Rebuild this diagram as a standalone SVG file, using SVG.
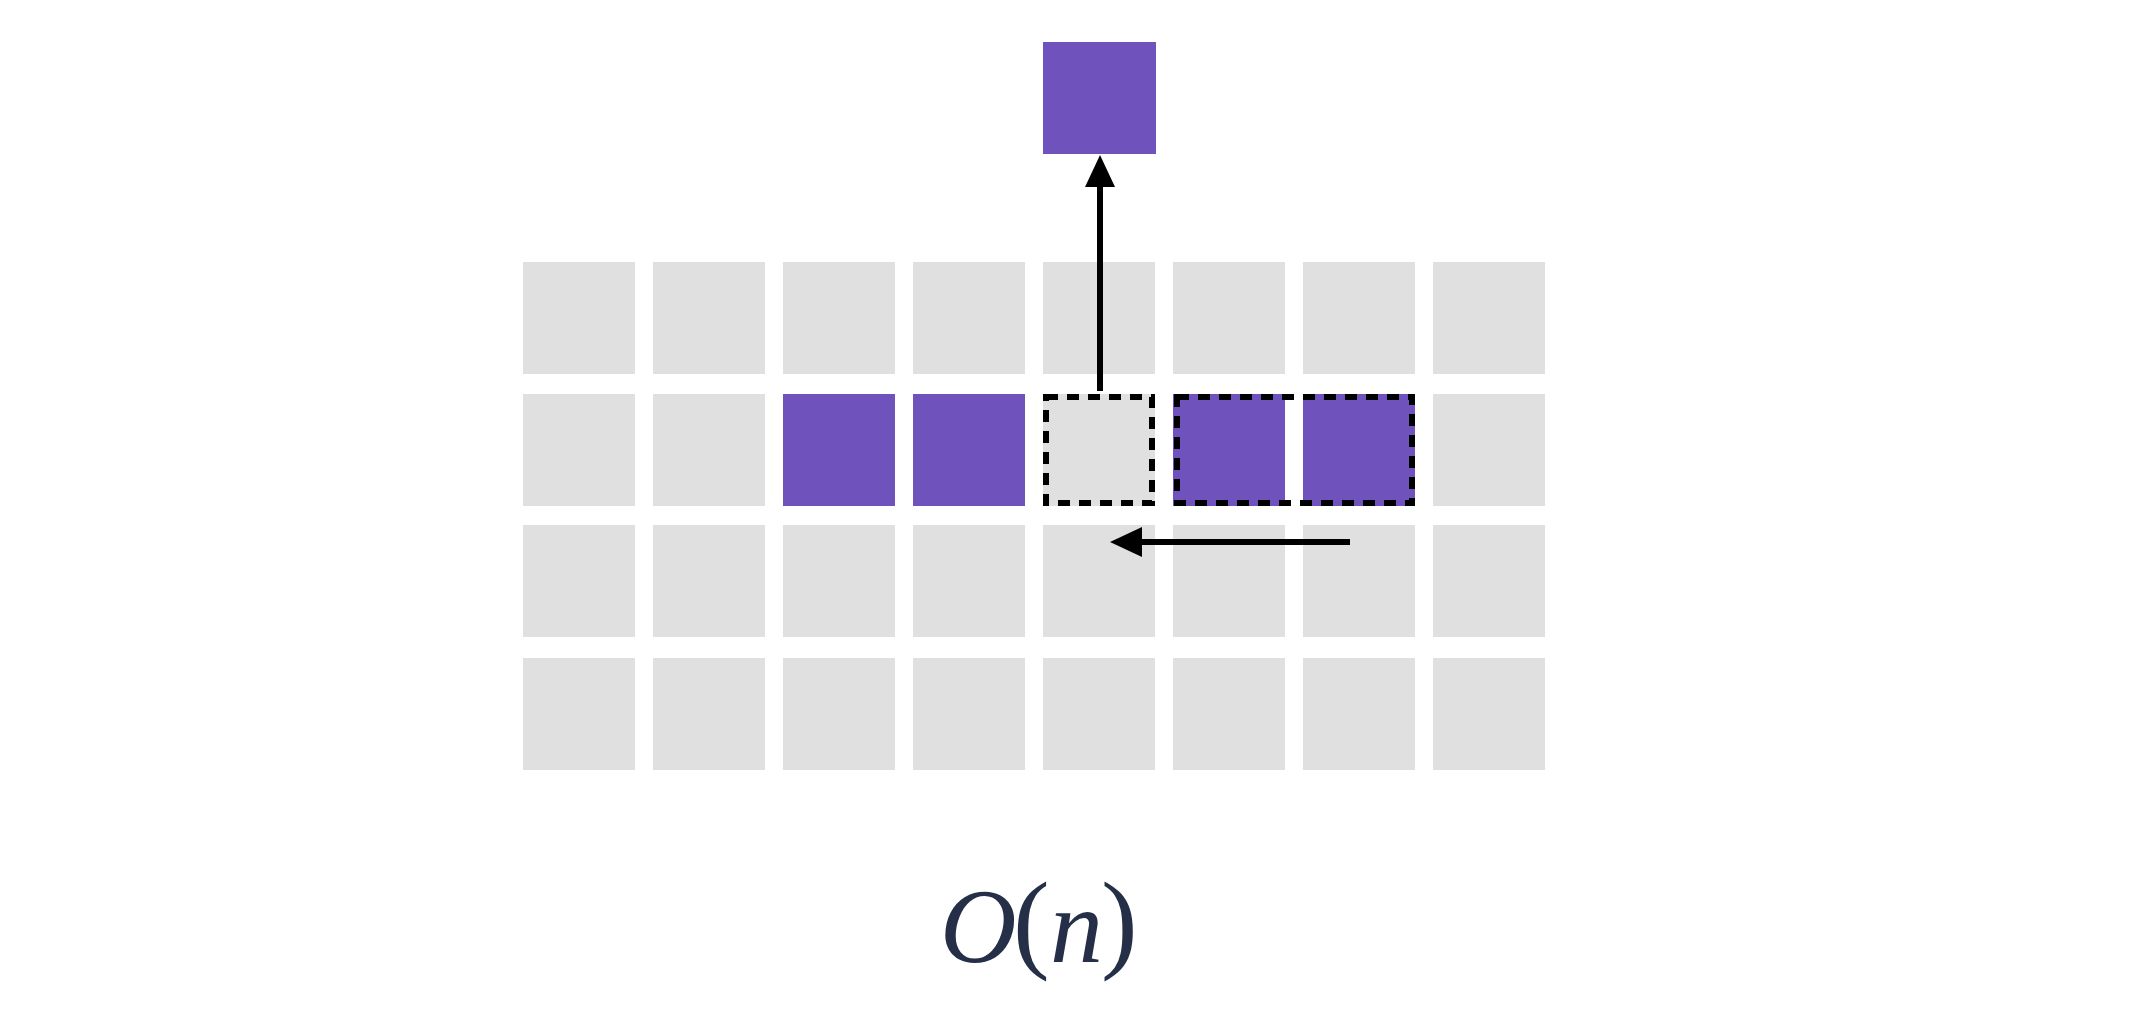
<svg xmlns="http://www.w3.org/2000/svg" width="2146" height="1034" viewBox="0 0 2146 1034">
<style>
.g{fill:#e0e0e0}
.p{fill:#7052bc}
.d{fill:none;stroke:#000;stroke-width:6;stroke-dasharray:12 9}
.a{stroke:#000;stroke-width:6;fill:none}
.t{font-family:"Liberation Serif",serif;fill:#262f48}
.i{font-style:italic;font-size:106px}
.u{font-style:normal;font-size:110px}
</style>
<defs>
<marker id="ah" markerUnits="userSpaceOnUse" markerWidth="34" markerHeight="34" viewBox="0 0 34 34" refX="12" refY="17" orient="auto">
<path d="M0,2 L32,17 L0,32 Z" fill="#000"/>
</marker>
</defs>
<rect width="2146" height="1034" fill="#fff"/>
<g id="grid">
<g id="row1">
<rect class="g" x="523" y="262" width="112" height="112"/>
<rect class="g" x="653" y="262" width="112" height="112"/>
<rect class="g" x="783" y="262" width="112" height="112"/>
<rect class="g" x="913" y="262" width="112" height="112"/>
<rect class="g" x="1043" y="262" width="112" height="112"/>
<rect class="g" x="1173" y="262" width="112" height="112"/>
<rect class="g" x="1303" y="262" width="112" height="112"/>
<rect class="g" x="1433" y="262" width="112" height="112"/>
</g>
<g id="row2">
<rect class="g" x="523" y="394" width="112" height="112"/>
<rect class="g" x="653" y="394" width="112" height="112"/>
<rect class="p" x="783" y="394" width="112" height="112"/>
<rect class="p" x="913" y="394" width="112" height="112"/>
<rect class="g" x="1043" y="394" width="112" height="112"/>
<rect class="p" x="1173" y="394" width="112" height="112"/>
<rect class="p" x="1303" y="394" width="112" height="112"/>
<rect class="g" x="1433" y="394" width="112" height="112"/>
</g>
<g id="row3">
<rect class="g" x="523" y="525" width="112" height="112"/>
<rect class="g" x="653" y="525" width="112" height="112"/>
<rect class="g" x="783" y="525" width="112" height="112"/>
<rect class="g" x="913" y="525" width="112" height="112"/>
<rect class="g" x="1043" y="525" width="112" height="112"/>
<rect class="g" x="1173" y="525" width="112" height="112"/>
<rect class="g" x="1303" y="525" width="112" height="112"/>
<rect class="g" x="1433" y="525" width="112" height="112"/>
</g>
<g id="row4">
<rect class="g" x="523" y="658" width="112" height="112"/>
<rect class="g" x="653" y="658" width="112" height="112"/>
<rect class="g" x="783" y="658" width="112" height="112"/>
<rect class="g" x="913" y="658" width="112" height="112"/>
<rect class="g" x="1043" y="658" width="112" height="112"/>
<rect class="g" x="1173" y="658" width="112" height="112"/>
<rect class="g" x="1303" y="658" width="112" height="112"/>
<rect class="g" x="1433" y="658" width="112" height="112"/>
</g>
</g>
<g id="removed">
<rect class="p" x="1043" y="42" width="113" height="112"/>
</g>
<g id="hole">
<rect class="d" x="1046" y="397" width="106" height="106"/>
</g>
<g id="shifted">
<rect class="d" x="1177" y="397" width="235" height="106"/>
</g>
<g id="connectors">
<line class="a" x1="1100" y1="391" x2="1100" y2="175" marker-end="url(#ah)"/>
<line class="a" x1="1350" y1="542" x2="1130" y2="542" marker-end="url(#ah)"/>
</g>
<text class="t" y="962"><tspan class="i" x="940">O</tspan><tspan class="u" x="1013" y="958">(</tspan><tspan class="i" x="1050" y="962">n</tspan><tspan class="u" x="1101" y="958">)</tspan></text>
</svg>
